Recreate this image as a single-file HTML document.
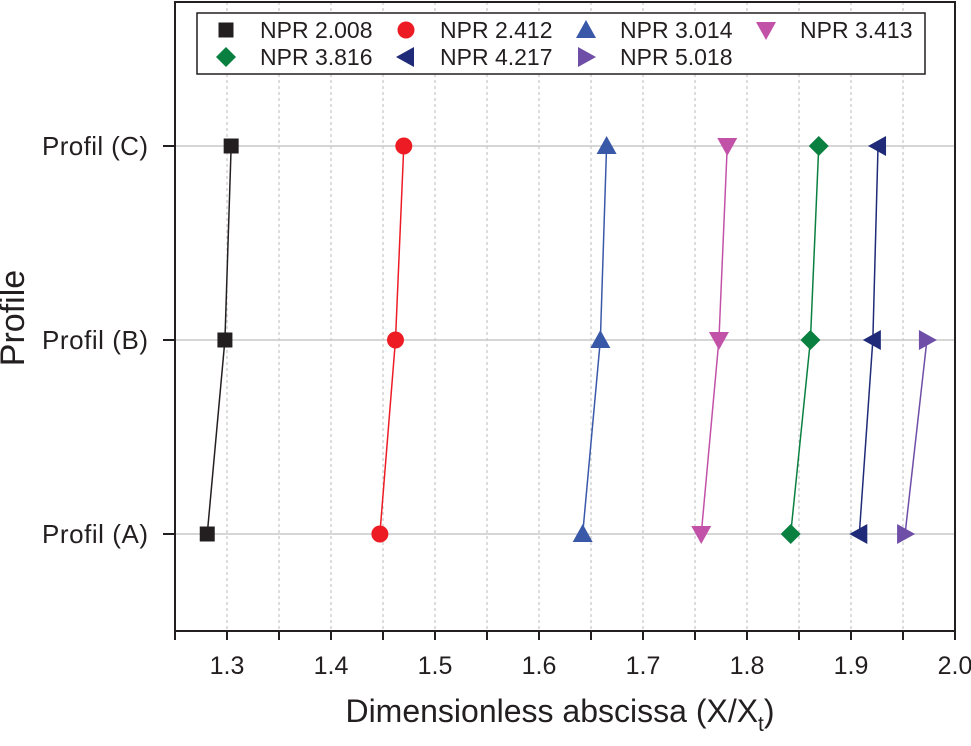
<!DOCTYPE html>
<html><head><meta charset="utf-8"><style>
body{margin:0;background:#fff}
svg text{font-family:"Liberation Sans",Arial,sans-serif;fill:#231f20}
</style></head><body>
<svg id="chart" width="971" height="741" xmlns="http://www.w3.org/2000/svg"></svg>
<script>
const categories=["Profil (A)","Profil (B)","Profil (C)"];
const seriesNames=["NPR 2.008","NPR 2.412","NPR 3.014","NPR 3.413","NPR 3.816","NPR 4.217","NPR 5.018"];
const s2008=[1.281,1.298,1.304];
const s2412=[1.447,1.462,1.470];
const s3014=[1.642,1.659,1.665];
const s3413=[1.756,1.773,1.781];
const s3816=[1.842,1.861,1.869];
const s4217=[1.908,1.921,1.926];
const s5018=[1.952,1.973,null];
const xTicks=[1.3,1.4,1.5,1.6,1.7,1.8,1.9,2.0];
const colors=["#231f20","#ed1c24","#3a58a8","#c252a8","#0a8040","#1f2a78","#6e4ea6"];
const markers=["square","circle","up","down","diamond","left","right"];
const allSeries=[s2008,s2412,s3014,s3413,s3816,s4217,s5018];
const L=175,R=955,T=2,B=631;
const X=v=>L+(v-1.25)/(0.75)*(R-L);
const Y=i=>534-i*194;
const svg=document.getElementById('chart');
const NS="http://www.w3.org/2000/svg";
function mk(t,a,p){const e=document.createElementNS(NS,t);for(const k in a)e.setAttribute(k,a[k]);(p||svg).appendChild(e);return e;}
for(let v=1.3;v<2.0-1e-9;v+=0.05){const g=mk('line',{x1:X(v),x2:X(v),y1:T,y2:B,stroke:'#bbb','stroke-width':1,'stroke-dasharray':'3,3'});

}
categories.forEach((c,i)=>{const g=mk('line',{x1:L,x2:R,y1:Y(i),y2:Y(i),stroke:'#c8c8c8','stroke-width':1.5});


const t=mk('line',{x1:L-12,x2:L,y1:Y(i),y2:Y(i),stroke:'#231f20','stroke-width':2});


const lb=mk('text',{x:L-27,y:Y(i)+9,'text-anchor':'end','font-size':26,'textLength':106});lb.textContent=c;

});
const fr=mk('rect',{x:L,y:T,width:R-L,height:B-T,fill:'none',stroke:'#231f20','stroke-width':2});


for(let v=1.25;v<=2.0001;v+=0.05){const tk=mk('line',{x1:X(v),x2:X(v),y1:B,y2:B+9,stroke:'#231f20','stroke-width':2});

}
xTicks.forEach(v=>{const t=mk('text',{x:X(v),y:B+43,'text-anchor':'middle','font-size':25});t.textContent=v.toFixed(1);

});
function marker(type,x,y,col,s,parent){
 let e;
 if(type==='square')e=mk('rect',{x:x-7.5,y:y-7.5,width:15,height:15,fill:col},parent);
 else if(type==='circle')e=mk('circle',{cx:x,cy:y,r:8.5,fill:col},parent);
 else{let p;
  if(type==='up')p=[[0,-10],[10,8],[-10,8]];
  if(type==='down')p=[[0,10],[10,-8],[-10,-8]];
  if(type==='left')p=[[-10,0],[8,-10],[8,10]];
  if(type==='right')p=[[10,0],[-8,-10],[-8,10]];
  if(type==='diamond')p=[[0,-10],[10,0],[0,10],[-10,0]];
  e=mk('polygon',{points:p.map(q=>(x+q[0])+','+(y+q[1])).join(' '),fill:col},parent);}
 return e;}
allSeries.forEach((arr,si)=>{
 const g=mk('g',{});
 
 
 const pts=arr.map((v,i)=>v==null?null:[X(v),Y(i)]).filter(p=>p);
 const pl=mk('polyline',{points:pts.map(p=>p.join(',')).join(' '),fill:'none',stroke:colors[si],'stroke-width':1.5},g);
 
 
 pts.forEach(p=>{const m=marker(markers[si],p[0],p[1],colors[si],0,g);
 
 });
});
const lg=mk('g',{});


mk('rect',{x:197,y:13,width:728,height:61,fill:'#fff',stroke:'#231f20','stroke-width':1.5},lg);
const colX=[226,406,586,766];
seriesNames.forEach((n,i)=>{const r=Math.floor(i/4),c=i%4;const y=r?57:30;
 const e=mk('g',{},lg);
 
 
 marker(markers[i],colX[c],y,colors[i],0,e);
 const t=mk('text',{x:colX[c]+34,y:y+8,'font-size':23},e);t.textContent=n;});
const xt=mk('text',{x:560,y:722,'text-anchor':'middle','font-size':32});
xt.innerHTML='Dimensionless abscissa (X/X<tspan font-size="21" dy="9">t</tspan><tspan dy="-9">)</tspan>';


const yt=mk('text',{x:0,y:0,'text-anchor':'middle','font-size':34,transform:'translate(24,318) rotate(-90)'});
yt.textContent='Profile';


</script>
</body></html>
